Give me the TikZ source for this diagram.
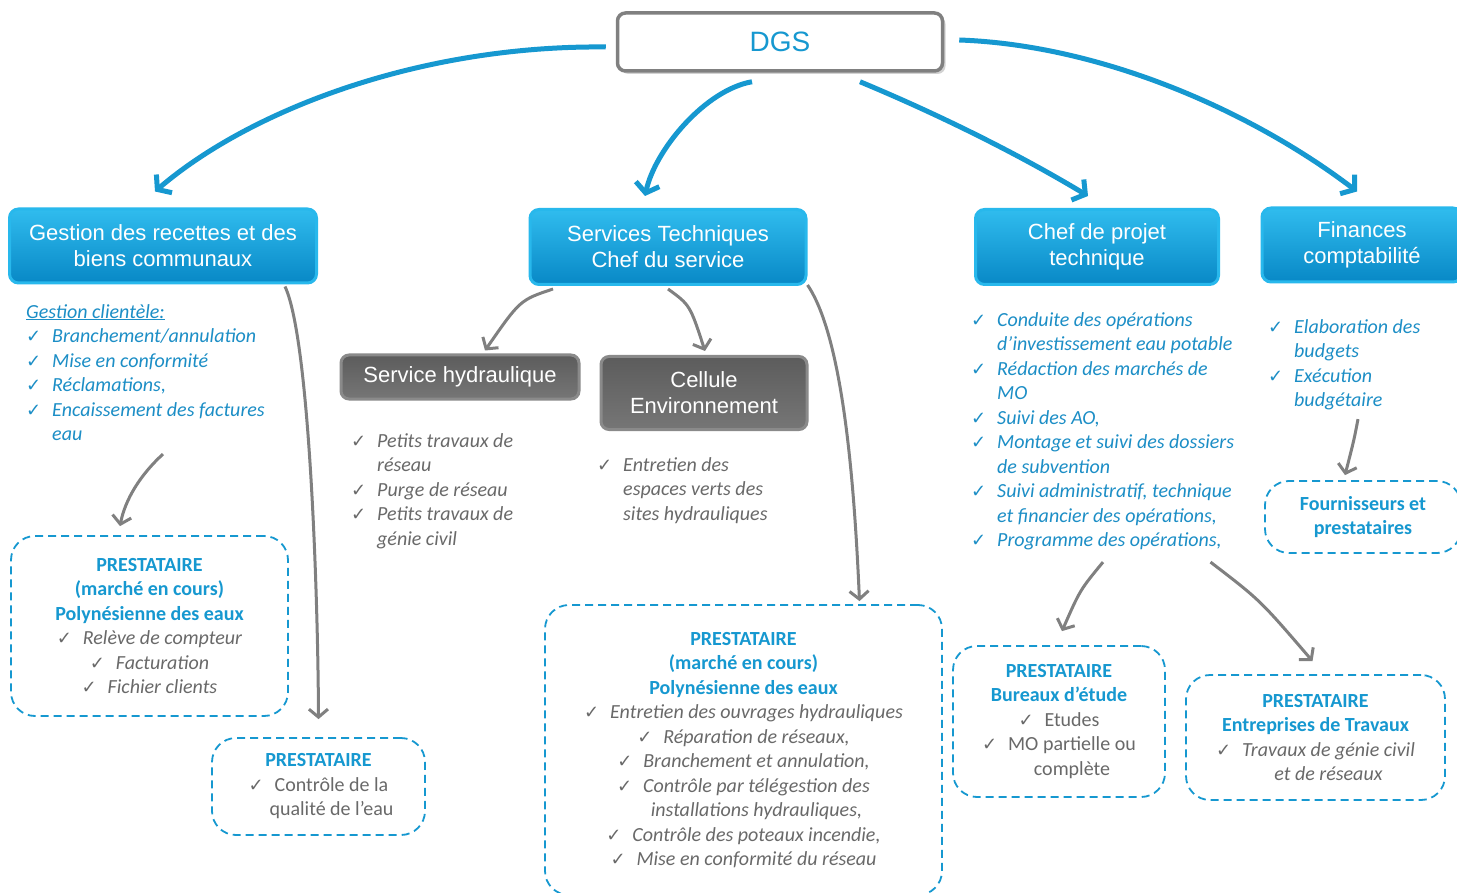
\documentclass[tikz,border=0pt]{standalone}
\usepackage{fontspec}
\setmainfont{Carlito}
\newfontfamily\arialfont{Liberation Sans}
\newfontfamily\chkfont{DejaVu Sans}
\usetikzlibrary{arrows.meta,calc,shadows}

\definecolor{orgblue}{RGB}{22,152,208}
\definecolor{listblue}{RGB}{28,142,198}
\definecolor{boxtop}{RGB}{48,188,238}
\definecolor{boxbot}{RGB}{8,136,198}
\definecolor{boxrim}{RGB}{40,184,236}
\definecolor{graytop}{RGB}{92,92,92}
\definecolor{graybot}{RGB}{118,118,118}
\definecolor{grayrim}{RGB}{138,138,138}
\definecolor{txtgray}{RGB}{105,105,105}
\definecolor{arrgray}{RGB}{128,128,128}

\newcommand{\chk}{\makebox[26pt][l]{\chkfont\fontsize{18}{18}\selectfont ✓}}
\newcommand{\ckgap}{\hspace*{26pt}}
\newcommand{\ttl}[1]{\textcolor{orgblue}{\bfseries #1}}

\tikzset{
  dgsbox/.style={draw=arrgray, line width=3.5pt, fill=white, rounded corners=8pt,
    drop shadow={shadow xshift=3pt, shadow yshift=-3pt, opacity=0.35},
    text=orgblue, font=\arialfont\fontsize{28}{30}\selectfont, inner sep=0pt},
  bluebox/.style={draw=boxrim, line width=3pt, top color=boxtop, bottom color=boxbot,
    rounded corners=9pt, text=white, align=center, inner sep=0pt,
    font=\arialfont\fontsize{22}{26}\selectfont},
  graybox/.style={draw=grayrim, line width=3pt, top color=graytop, bottom color=graybot,
    rounded corners=8pt, text=white, align=center, inner sep=0pt,
    font=\arialfont\fontsize{22}{26}\selectfont},
  prestbox/.style={draw=orgblue, line width=1.8pt, dash pattern=on 8pt off 5pt,
    rounded corners=24pt, align=center, inner sep=0pt, text=txtgray,
    font=\fontsize{20}{24.5}\selectfont},
  liste/.style={anchor=north west, align=left, inner sep=0pt,
    font=\itshape\fontsize{20}{24.5}\selectfont},
  bluearrow/.style={draw=orgblue, line width=5pt, -{Straight Barb[length=9pt,width=24pt]}},
  grayarrow/.style={draw=arrgray, line width=3pt, -{Straight Barb[length=8pt,width=19pt]}},
}

\begin{document}
\begin{tikzpicture}[x=1pt,y=-1pt]
 \fill[white] (0,0) rectangle (1457,893);
 \useasboundingbox (0,0) rectangle (1457,893);

 % top level
 \node[dgsbox, minimum width=325pt, minimum height=58pt] (dgs) at (780,42) {DGS};

 \node[bluebox, minimum width=307pt, minimum height=74pt] (gest) at (163,246)
   {Gestion des recettes et des\\biens communaux};
 \node[bluebox, minimum width=276pt, minimum height=75pt] (serv) at (668,247)
   {Services Techniques\\Chef du service};
 \node[bluebox, minimum width=243pt, minimum height=75pt] (chef) at (1097,247)
   {Chef de projet\\technique};
 \node[bluebox, minimum width=200pt, minimum height=74pt] (fin) at (1362,245)
   {Finances\\comptabilité};

 \node[graybox, minimum width=238pt, minimum height=44pt] (hyd) at (460,377)
   {Service hydraulique};
 \node[graybox, minimum width=206pt, minimum height=73pt] (cell) at (704,393)
   {Cellule\\Environnement};

 % lists
 \node[liste, text=listblue] (l1) at (26,304)
   {\underline{Gestion clientèle:}\\
    \chk Branchement/annulation\\
    \chk Mise en conformité\\
    \chk Réclamations,\\
    \chk Encaissement des factures\\
    \ckgap eau};
 \node[liste, text=txtgray] (l2) at (351,433)
   {\chk Petits travaux de\\
    \ckgap réseau\\
    \chk Purge de réseau\\
    \chk Petits travaux de\\
    \ckgap génie civil};
 \node[liste, text=txtgray] (l3) at (597,457)
   {\chk Entretien des\\
    \ckgap espaces verts des\\
    \ckgap sites hydrauliques};
 \node[liste, text=listblue] (l4) at (971,312)
   {\chk Conduite des opérations\\
    \ckgap d’investissement eau potable\\
    \chk Rédaction des marchés de\\
    \ckgap MO\\
    \chk Suivi des AO,\\
    \chk Montage et suivi des dossiers\\
    \ckgap de subvention\\
    \chk Suivi administratif, technique\\
    \ckgap et financier des opérations,\\
    \chk Programme des opérations,};
 \node[liste, text=listblue] (l5) at (1268,319)
   {\chk Elaboration des\\
    \ckgap budgets\\
    \chk Exécution\\
    \ckgap budgétaire};

 % prestataires
 \node[prestbox, minimum width=277pt, minimum height=180pt] (p1) at (149.5,626)
   {\ttl{PRESTATAIRE}\\ \ttl{(marché en cours)}\\ \ttl{Polynésienne des eaux}\\
    \chk\textit{Relève de compteur}\\ \chk\textit{Facturation}\\ \chk\textit{Fichier clients}};
 \node[prestbox, minimum width=213pt, minimum height=97pt] (p2) at (318.5,786.5)
   {\ttl{PRESTATAIRE}\\ \chk Contrôle de la\\ \ckgap qualité de l’eau};
 \node[prestbox, minimum width=397pt, minimum height=290pt] (p3) at (743.5,750)
   {\ttl{PRESTATAIRE}\\ \ttl{(marché en cours)}\\ \ttl{Polynésienne des eaux}\\
    \chk\textit{Entretien des ouvrages hydrauliques}\\
    \chk\textit{Réparation de réseaux,}\\
    \chk\textit{Branchement et annulation,}\\
    \chk\textit{Contrôle par télégestion des}\\
    \ckgap\textit{installations hydrauliques,}\\
    \chk\textit{Contrôle des poteaux incendie,}\\
    \chk\textit{Mise en conformité du réseau}};
 \node[prestbox, minimum width=212pt, minimum height=151pt] (p4) at (1059,721.5)
   {\ttl{PRESTATAIRE}\\ \ttl{Bureaux d’étude}\\ \chk Etudes\\ \chk MO partielle ou\\ \ckgap complète};
 \node[prestbox, minimum width=259pt, minimum height=125pt] (p5) at (1315.5,737.5)
   {\ttl{PRESTATAIRE}\\ \ttl{Entreprises de Travaux}\\
    \chk\textit{Travaux de génie civil}\\ \ckgap\textit{et de réseaux}};
 \node[prestbox, minimum width=196pt, minimum height=72pt] (p6) at (1363,517)
   {\ttl{Fournisseurs et}\\ \ttl{prestataires}};

 % arrows from DGS
 \draw[bluearrow] ($(dgs.west)+(-10,5)$) .. controls (420,45) and (250,110) .. ($(gest.north)+(-8,-16)$);
 \draw[bluearrow] ($(dgs.south)+(-28,9)$) .. controls (705,90) and (655,150) .. ($(serv.north)+(-23,-12)$);
 \draw[bluearrow] ($(dgs.south)+(80,9)$) .. controls (940,115) and (1020,155) .. ($(chef.north)+(-9,-12)$);
 \draw[bluearrow] ($(dgs.east)+(15,-2)$) .. controls (1100,45) and (1250,110) .. ($(fin.north)+(-5,-15)$);

 % gray arrows
 \draw[grayarrow] ($(gest.south east)+(-33,2)$) .. controls (310,340) and (318,600) .. ($(p2.north)+(0,-18)$);
 \draw[grayarrow] ($(p1.north)+(13.5,-81)$) .. controls (140,475) and (125,500) .. ($(p1.north)+(-29.5,-9)$);
 \draw[grayarrow] ($(serv.south)+(-115,3)$) .. controls (520,300) .. ($(hyd.north)+(25,-3)$);
 \draw[grayarrow] ($(serv.south)+(0,3)$) .. controls (690,305) .. ($(cell.north)+(1,-4)$);
 \draw[grayarrow] ($(serv.south east)+(0,-1)$) .. controls (845,340) and (855,500) .. ($(p3.north)+(116,-3)$);
 \draw[grayarrow] ($(p6.north)+(-5,-61)$) .. controls (1354,440) .. ($(p6.north)+(-18,-5)$);
 \draw[grayarrow] ($(p4.north)+(44,-83)$) .. controls (1080,590) .. ($(p4.north)+(3,-14)$);
 \draw[grayarrow] ($(p5.north)+(-105,-112)$) .. controls (1260,600) .. ($(p5.north)+(-3,-13)$);
\end{tikzpicture}
\end{document}
